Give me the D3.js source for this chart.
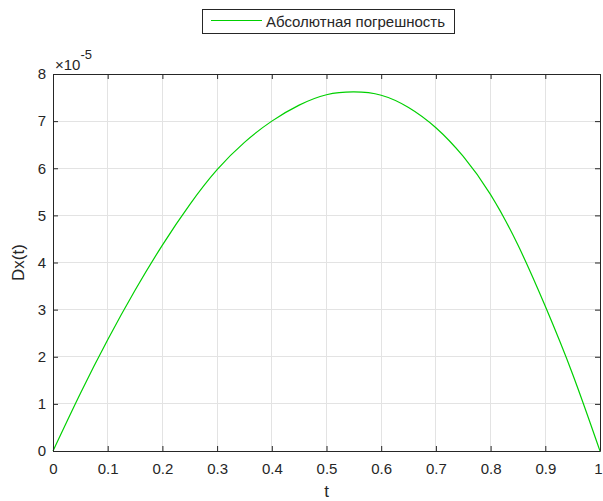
<!DOCTYPE html>
<html>
<head>
<meta charset="utf-8">
<script src="https://cdn.jsdelivr.net/npm/d3@7"></script>
<style>
  html, body { margin: 0; padding: 0; background: #fff; }
  svg { display: block; }
  text { font-family: "Liberation Sans", Arial, Helvetica, sans-serif; }
</style>
</head>
<body>
<svg id="chart" width="603" height="501"></svg>
<script>
// ---- data (values in units of 1e-5) ----
const tValues = [0, 0.05, 0.1, 0.15, 0.2, 0.25, 0.3, 0.35, 0.4, 0.45, 0.5,
                 0.55, 0.6, 0.65, 0.7, 0.75, 0.8, 0.85, 0.9, 0.95, 1.0];
const dxValues = [0, 1.22, 2.36, 3.41, 4.37, 5.23, 5.97, 6.55, 7.0, 7.34, 7.56,
                  7.62, 7.55, 7.29, 6.86, 6.25, 5.44, 4.37, 3.07, 1.63, 0];
const xTicks = [0, 0.1, 0.2, 0.3, 0.4, 0.5, 0.6, 0.7, 0.8, 0.9, 1];
const yTicks = [0, 1, 2, 3, 4, 5, 6, 7, 8];
const seriesName = "Абсолютная погрешность";
const xLabel = "t";
const yLabel = "Dx(t)";

const W = 603, H = 501;
const margin = { left: 53, right: 3, top: 74, bottom: 50 };
const svg = d3.select("#chart");

const x = d3.scaleLinear().domain([0, 1]).range([margin.left, W - margin.right]);
const y = d3.scaleLinear().domain([0, 8]).range([H - margin.bottom, margin.top]);

const axisColor = "#262626";
const gridColor = "#e3e3e3";
const tickFont = 15;
const lineColor = "#00d000";

// grid
const grid = svg.append("g");
grid.selectAll(".gx").data(xTicks.slice(1, -1)).join("line")
  .attr("x1", d => x(d)).attr("x2", d => x(d))
  .attr("y1", y(0)).attr("y2", y(8))
  .attr("stroke", gridColor).attr("stroke-width", 1).attr("shape-rendering", "crispEdges");
grid.selectAll(".gy").data(yTicks.slice(1, -1)).join("line")
  .attr("x1", x(0)).attr("x2", x(1))
  .attr("y1", d => y(d)).attr("y2", d => y(d))
  .attr("stroke", gridColor).attr("stroke-width", 1).attr("shape-rendering", "crispEdges");

// data line
const line = d3.line()
  .x((d, i) => x(tValues[i]))
  .y(d => y(d))
  .curve(d3.curveNatural);
svg.append("path").datum(dxValues)
  .attr("d", line)
  .attr("fill", "none")
  .attr("stroke", lineColor)
  .attr("stroke-width", 1.2);

// axes (MATLAB-style: inward ticks, box)
function styleAxis(g) {
  g.selectAll("path.domain").attr("stroke", axisColor);
  g.selectAll(".tick line").attr("stroke", axisColor);
  g.selectAll("text").attr("fill", axisColor).style("font-size", tickFont + "px")
    .style("font-family", '"Liberation Sans", Arial, sans-serif');
}
const tickLen = 5;
const xAxisB = d3.axisBottom(x).tickValues(xTicks).tickFormat(d3.format("")).tickSizeInner(-tickLen).tickSizeOuter(0).tickPadding(12);
const xAxisT = d3.axisTop(x).tickValues(xTicks).tickFormat("").tickSizeInner(-tickLen).tickSizeOuter(0);
const yAxisL = d3.axisLeft(y).tickValues(yTicks).tickFormat(d3.format("")).tickSizeInner(-tickLen).tickSizeOuter(0).tickPadding(7);
const yAxisR = d3.axisRight(y).tickValues(yTicks).tickFormat("").tickSizeInner(-tickLen).tickSizeOuter(0);

const gxb = svg.append("g").attr("transform", `translate(0,${y(0)})`).call(xAxisB).call(styleAxis);
// keep the last label ("1") inside the window edge
gxb.selectAll(".tick text").filter(d => d === 1).attr("text-anchor", "end").attr("dx", 2);
svg.append("g").attr("transform", `translate(0,${y(8)})`).call(xAxisT).call(styleAxis);
svg.append("g").attr("transform", `translate(${x(0)},0)`).call(yAxisL).call(styleAxis);
svg.append("g").attr("transform", `translate(${x(1)},0)`).call(yAxisR).call(styleAxis);

// exponent label
const expo = svg.append("text")
  .attr("x", x(0) + 2).attr("y", y(8) - 4)
  .attr("fill", axisColor).style("font-size", tickFont + "px");
expo.append("tspan").text("×10");
expo.append("tspan").attr("dy", -11).style("font-size", "13px").text("-5");

// axis labels
svg.append("text")
  .attr("x", (x(0) + x(1)) / 2).attr("y", H - 4)
  .attr("text-anchor", "middle").attr("fill", axisColor)
  .style("font-size", "17px").text(xLabel);
svg.append("text")
  .attr("transform", `translate(24,${(y(0) + y(8)) / 2}) rotate(-90)`)
  .attr("text-anchor", "middle").attr("fill", axisColor)
  .style("font-size", "17px").text(yLabel);

// legend
const lg = svg.append("g");
lg.append("rect").attr("x", 202.5).attr("y", 9.5).attr("width", 252).attr("height", 24)
  .attr("fill", "#fff").attr("stroke", axisColor).attr("stroke-width", 1);
lg.append("line").attr("x1", 211).attr("x2", 262).attr("y1", 20.5).attr("y2", 20.5)
  .attr("stroke", lineColor).attr("stroke-width", 1.2);
lg.append("text").attr("x", 266).attr("y", 27).attr("fill", axisColor)
  .style("font-size", "15px").text(seriesName);
</script>
</body>
</html>
